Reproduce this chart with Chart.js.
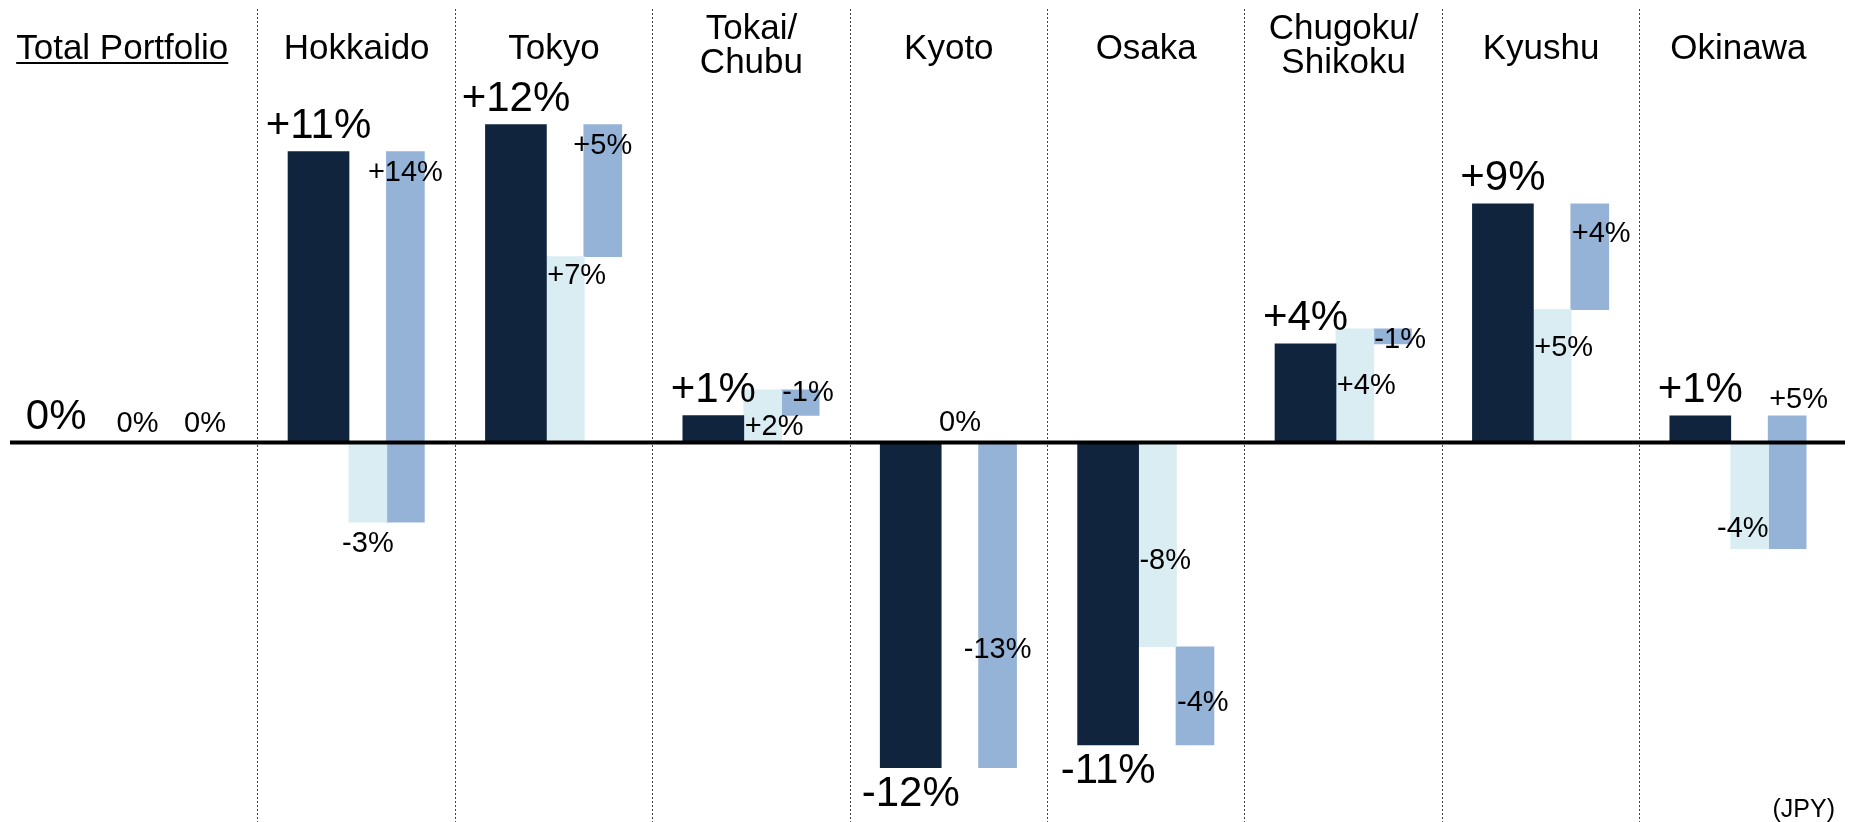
<!DOCTYPE html>
<html>
<head>
<meta charset="utf-8">
<title>Regional return bridge</title>
<script src="https://cdn.jsdelivr.net/npm/chart.js@4.4.1/dist/chart.umd.min.js"></script>
<style>
  html, body { margin: 0; padding: 0; background: #fff; }
  #wrap { width: 1856px; height: 822px; }
</style>
</head>
<body>
<div id="wrap"><canvas id="chart" width="1856" height="822"></canvas></div>
<script>
// columns, left to right
var categories = ['Total Portfolio', 'Hokkaido', 'Tokyo', ['Tokai/', 'Chubu'], 'Kyoto', 'Osaka', ['Chugoku/', 'Shikoku'], 'Kyushu', 'Okinawa'];

// total change (%) and first step of the bridge; the second step runs from step 1 up/down to the total
var totalValues = [0, 10.97, 11.99, 1.02, -12.26, -11.40, 3.72, 9.00, 1.01];
var step1Values = [0, -3.00, 7.01, 1.99, 0, -7.70, 4.29, 5.01, -4.00];

// printed labels, kept as read (they are rounded in the source)
var totalLabels = ['0%', '+11%', '+12%', '+1%', '-12%', '-11%', '+4%', '+9%', '+1%'];
var step1Labels = ['0%', '-3%', '+7%', '+2%', '0%', '-8%', '+4%', '+5%', '-4%'];
var step2Labels = ['0%', '+14%', '+5%', '-1%', '-13%', '-4%', '-1%', '+4%', '+5%'];
var unitNote = '(JPY)';

// column separators sit half way between columns
var separators = [0.5, 1.5, 2.5, 3.5, 4.5, 5.5, 6.5, 7.5];

var FONT = '"Liberation Sans", Arial, sans-serif';
var COLORS = { total: '#10243e', step1: '#daedf3', step2: '#95b3d7' };
// bar position inside a column (column units) and bar width (px)
var OFFSETS = { total: -0.193, step1: 0.057, step2: 0.247 };
var WIDTHS = { total: 61, step1: 38, step2: 38 };

// small label placement: [bar edge t/m/b, dy to text centre, align c/l/r, dx]
var step1Place = [['b', -19, 'c', -33], ['b', 22, 'c'], ['t', 19.5, 'l'], ['b', -16, 'l'], ['b', -20, 'c'],
                  ['m', 16, 'l'], ['m', 0, 'l'], ['t', 38, 'l'], ['b', -20, 'r']];
var step2Place = [['b', -19, 'c', -3], ['t', 21, 'c'], ['t', 21, 'c'], ['t', 3, 'l'], ['m', 45, 'c'],
                  ['m', 7, 'l'], ['m', 3.5, 'l'], ['t', 30, 'l'], ['t', -16, 'l']];
var totalShift = [-65, 0, 0, 0, 0, 0, 0, 0, 0];
var titleShift = [-37, 0, 0, 0, 0, 0, 0, 0, 0];

function points(offset, from, to) {
  return categories.map(function (c, i) {
    return { x: i + offset, y: [from ? from[i] : 0, to[i]] };
  });
}

var annotate = {
  id: 'annotate',
  afterDatasetsDraw: function (chart) {
    var ctx = chart.ctx, area = chart.chartArea;
    var xs = chart.scales.x, ys = chart.scales.y;
    var y0 = ys.getPixelForValue(0);
    ctx.save();

    // zero line
    ctx.strokeStyle = '#000';
    ctx.lineWidth = 4;
    ctx.beginPath();
    ctx.moveTo(area.left, y0);
    ctx.lineTo(area.right, y0);
    ctx.stroke();

    // column titles
    ctx.fillStyle = '#000';
    ctx.font = '35px ' + FONT;
    ctx.textAlign = 'center';
    ctx.textBaseline = 'alphabetic';
    categories.forEach(function (c, i) {
      var x = xs.getPixelForValue(i) + titleShift[i];
      if (Array.isArray(c)) {
        ctx.fillText(c[0], x, 38.5);
        ctx.fillText(c[1], x, 72.5);
      } else {
        ctx.fillText(c, x, 59);
        if (i === 0) {
          var w = ctx.measureText(c).width;
          ctx.fillRect(x - w / 2, 62, w, 2);
        }
      }
    });

    // value labels
    ctx.textBaseline = 'middle';
    chart.data.datasets.forEach(function (ds, d) {
      var meta = chart.getDatasetMeta(d);
      meta.data.forEach(function (bar, i) {
        var p = bar.getProps(['x', 'y', 'base', 'width'], true);
        var top = Math.min(p.y, p.base), bottom = Math.max(p.y, p.base);
        var text = ds.valueLabels[i];
        if (d === 0) {
          ctx.font = '42px ' + FONT;
          ctx.textAlign = 'center';
          var ty = ds.data[i].y[1] >= 0 ? top - 25 : bottom + 27;
          ctx.fillText(text, p.x + totalShift[i], ty);
          return;
        }
        var pl = ds.place[i];
        var yRef = pl[0] === 't' ? top : pl[0] === 'b' ? bottom : (top + bottom) / 2;
        var x = p.x, dx = pl[3] || 0;
        ctx.font = '29px ' + FONT;
        if (pl[2] === 'l') { ctx.textAlign = 'left'; x = p.x - p.width / 2 + 1; }
        else if (pl[2] === 'r') { ctx.textAlign = 'right'; x = p.x + p.width / 2; }
        else ctx.textAlign = 'center';
        ctx.fillText(text, x + dx, yRef + pl[1]);
      });
    });

    // unit note
    ctx.font = '25px ' + FONT;
    ctx.textAlign = 'right';
    ctx.textBaseline = 'alphabetic';
    ctx.fillText(unitNote, area.right - 10, 817);
    ctx.restore();
  }
};

new Chart(document.getElementById('chart').getContext('2d'), {
  type: 'bar',
  data: {
    datasets: [
      { label: 'Total', data: points(OFFSETS.total, null, totalValues), backgroundColor: COLORS.total,
        barThickness: WIDTHS.total, valueLabels: totalLabels },
      { label: 'Step 1', data: points(OFFSETS.step1, null, step1Values), backgroundColor: COLORS.step1,
        barThickness: WIDTHS.step1, valueLabels: step1Labels, place: step1Place },
      { label: 'Step 2', data: points(OFFSETS.step2, step1Values, totalValues), backgroundColor: COLORS.step2,
        barThickness: WIDTHS.step2, valueLabels: step2Labels, place: step2Place }
    ]
  },
  options: {
    responsive: false,
    devicePixelRatio: 1,
    animation: false,
    grouped: false,
    borderWidth: 0,
    layout: { padding: { left: 10, right: 11, top: 9, bottom: 0 } },
    plugins: { legend: { display: false }, tooltip: { enabled: false } },
    scales: {
      x: {
        type: 'linear',
        min: -0.756,
        max: 8.54,
        offset: false,
        afterBuildTicks: function (axis) {
          axis.ticks = separators.map(function (v) { return { value: v }; });
        },
        ticks: { display: false },
        grid: { offset: false, drawTicks: false, color: '#444', lineWidth: 1 },
        border: { display: false, dash: [2, 2] }
      },
      y: {
        display: false,
        min: -14.31,
        max: 16.35
      }
    }
  },
  plugins: [annotate]
});
</script>
</body>
</html>
